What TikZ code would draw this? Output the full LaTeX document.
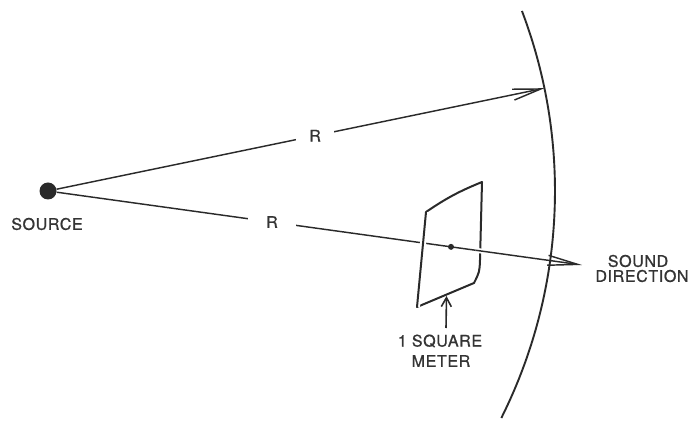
\documentclass[tikz,border=0pt]{standalone}
\usepackage{fontspec}
\newfontfamily\lblfont{TeX Gyre Heros}[LetterSpace=4, FakeBold=1]
\usetikzlibrary{arrows.meta,calc}
\definecolor{ink}{RGB}{42,42,42}
\definecolor{txt}{RGB}{52,52,52}
\tikzset{
  ray/.style={draw=ink, line width=1.45pt},
  sheet/.style={draw=ink, line width=2pt, line join=round, line cap=round},
  front/.style={draw=ink, line width=1.9pt},
  lbl/.style={text=txt, font=\lblfont\fontsize{16}{16}\selectfont, inner sep=0pt},
  gaplbl/.style={lbl, fill=white, inner ysep=2pt},
}
\begin{document}
\begin{tikzpicture}[x=1pt,y=1pt]
\useasboundingbox (0,0) rectangle (692,420);
% source
\node[circle, fill=ink, inner sep=0pt, minimum size=17pt] (src) at (48,229) {};
\node[lbl] (srclbl) at (47,196) {SOURCE};
% wavefront arc
\draw[front] (src.center) ++(20.8:507) arc[start angle=20.8, end angle=-26.6, radius=507];
% ray tips
\path (src.center) ++(11.7:507) coordinate (tipA);
\coordinate (tipB) at (582,155);
% rays
\draw[ray, -{Straight Barb[length=28pt, width=11pt]}] (src) -- (tipA);
\draw[ray, -{Straight Barb[length=30pt, width=10pt]}] (src) -- (tipB);
% R labels with gaps
\node[gaplbl, inner xsep=13pt] (rA) at ($(src.center)!0.538!(tipA)$) {R};
\node[gaplbl, inner xsep=18pt] (rB) at ($(src.center)!0.4195!(tipB)$) {R};
% square meter sheet
\coordinate (TL) at (426,208);
\coordinate (TR) at (482,238);
\coordinate (BR) at (474,137);
\coordinate (BL) at (417,113);
\draw[sheet] (TL) to[bend left=6] (TR) -- (480,160) .. controls (479.5,148) .. (BR) -- (BL);
\draw[sheet, preaction={draw=white, line width=6pt, line cap=butt}] (BL) -- (TL);
% ray in front of the right edge
\draw[ray, line cap=butt, preaction={draw=white, line width=5pt, line cap=butt}]
  ($(src.center)!0.801!(tipB)$) -- ($(src.center)!0.822!(tipB)$);
% piercing point
\node[circle, fill=ink, inner sep=0pt, minimum size=6pt] (hit) at ($(src.center)!0.7547!(tipB)$) {};
% labels
\node[lbl] (sqlbl1) at (440,79) {1 SQUARE};
\node[lbl] (sqlbl2) at (441,59) {METER};
\node[lbl] (dir1) at (638,159) {SOUND};
\node[lbl] (dir2) at (642,144) {DIRECTION};
% pointer arrow
\coordinate (ptA) at (446,92);
\coordinate (ptB) at (446.5,124);
\draw[ray, line width=1.6pt, -{Straight Barb[length=9pt, width=10pt]}] (ptA) -- (ptB);
\end{tikzpicture}
\end{document}
